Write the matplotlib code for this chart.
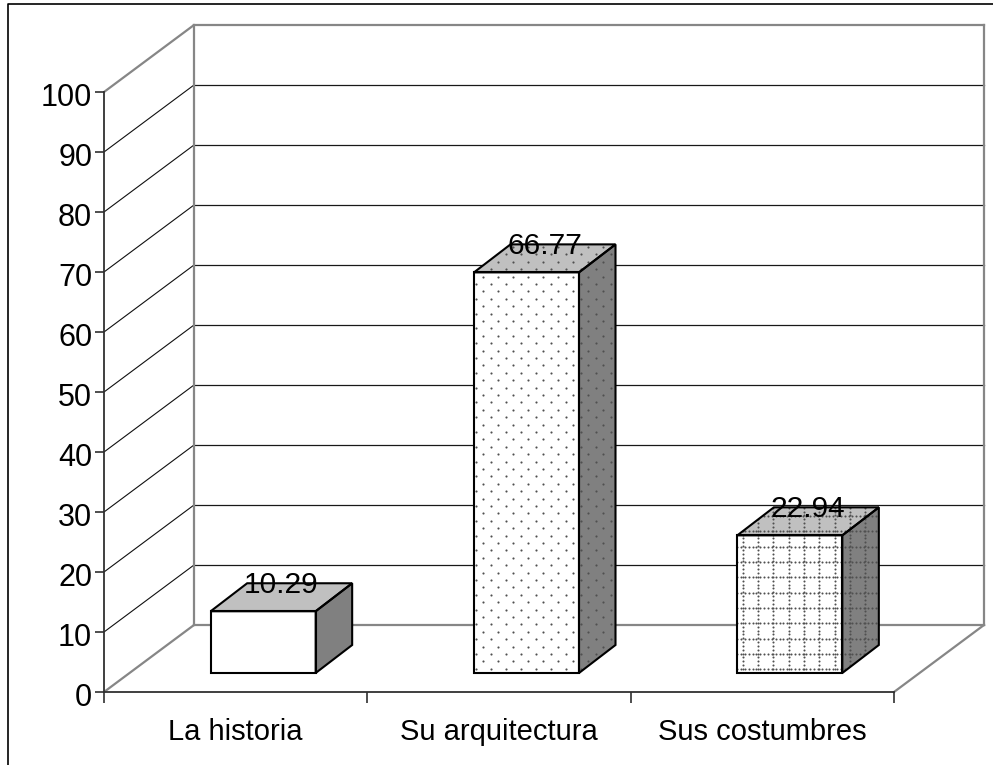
import numpy as np
import matplotlib
matplotlib.use("Agg")
import matplotlib.pyplot as plt
from matplotlib.patches import Polygon
from matplotlib.transforms import IdentityTransform, ScaledTranslation

plt.rcParams['font.family'] = ['Liberation Sans', 'DejaVu Sans']

categories = ["La historia", "Su arquitectura", "Sus costumbres"]
values = [10.29, 66.77, 22.94]
textures = [None, "dots", "grid"]
y_ticks = list(range(0, 101, 10))

W, H = 993, 765
fig = plt.figure(figsize=(W / 100, H / 100), dpi=100, facecolor="white")
# outer chart frame
fig.add_artist(plt.Line2D([8 / W, 8 / W, 1], [0, 1 - 4 / H, 1 - 4 / H], color="black", lw=1.2))

L, R, B, T = 104, 894, 692, 92
ax = fig.add_axes([L / W, 1 - B / H, (R - L) / W, (B - T) / H])
ax.set_xlim(0, 3)
ax.set_ylim(0, 100)
ax.patch.set_visible(False)
for s in ("top", "right"):
    ax.spines[s].set_visible(False)
for s in ("left", "bottom"):
    ax.spines[s].set_color("#303030")
    ax.spines[s].set_linewidth(1.3)

PXX = 3 / (R - L)       # category units per pixel
PXY = 100 / (B - T)     # value units per pixel
WDX, WDY = 90 * PXX, 67 * PXY     # wall depth
SDX, SDY = 27.5 * PXX, 19 * PXY   # bar offset from floor front
BDX, BDY = 36.5 * PXX, 28 * PXY   # bar depth
BW = 105 * PXX                    # bar width

GRAY = "#868686"
for v in y_ticks:
    edge = v in (y_ticks[0], y_ticks[-1])
    c = GRAY if edge else "#101010"
    lw = 1.6 if edge else 0.8
    ax.plot([0, WDX], [v, v + WDY], color=c, lw=lw, clip_on=False, zorder=1, solid_capstyle="round")
    ax.plot([WDX, 3 + WDX], [v + WDY, v + WDY], color=GRAY if edge else "#181818",
            lw=1.6 if edge else 0.9, clip_on=False, zorder=1)
ax.plot([WDX, WDX], [WDY, 100 + WDY], color=GRAY, lw=1.6, clip_on=False, zorder=1)
ax.plot([3 + WDX, 3 + WDX], [WDY, 100 + WDY], color=GRAY, lw=1.6, clip_on=False, zorder=1)
ax.plot([3, 3 + WDX], [0, WDY], color=GRAY, lw=1.6, clip_on=False, zorder=1)


def texture(patch, kind):
    """Screen-aligned pattern clipped to a face."""
    ident = IdentityTransform()
    if kind == "dots":
        rows = np.arange(0, H, 7.4)
        xs, ys = [], []
        for j, yy in enumerate(rows):
            xr = np.arange(3 + (7.5 if j % 2 else 0), W, 15)
            xs.extend(xr)
            ys.extend([yy] * len(xr))
        size = 2.4
    else:
        gx = np.arange(5.7, W, 15.35)
        gy = np.arange(3.6, H, 15.35)
        fine = np.arange(0, W, 3.84)
        fine_y = np.arange(0, H, 3.84)
        xs = list(np.repeat(fine, len(gy))) + list(np.repeat(gx, len(fine_y)))
        ys = list(np.tile(gy, len(fine))) + list(np.tile(fine_y, len(gx)))
        size = 2.2
    sc = ax.scatter(xs, ys, s=size, c="#505050", linewidths=0, transform=ident, zorder=3, clip_on=True)
    sc.set_clip_path(patch)


label_shift = ScaledTranslation(0, -2 / 100, fig.dpi_scale_trans)

for i, (val, tex) in enumerate(zip(values, textures)):
    x0 = i + 0.5 - BW / 2 + SDX
    x1 = x0 + BW
    y0 = SDY
    y1 = SDY + val
    faces = [
        ([(x0, y0), (x1, y0), (x1, y1), (x0, y1)], "white"),
        ([(x0, y1), (x1, y1), (x1 + BDX, y1 + BDY), (x0 + BDX, y1 + BDY)], "#C0C0C0"),
        ([(x1, y0), (x1 + BDX, y0 + BDY), (x1 + BDX, y1 + BDY), (x1, y1)], "#808080"),
    ]
    for pts, col in faces:
        fill = Polygon(pts, closed=True, facecolor=col, edgecolor="none", zorder=2, clip_on=False)
        ax.add_patch(fill)
        if tex:
            texture(fill, tex)
        ax.add_patch(Polygon(pts, closed=True, facecolor="none", edgecolor="black", lw=1.5,
                             joinstyle="miter", zorder=4, clip_on=False))
    ax.text((x0 + x1) / 2 + 18 * PXX, y1 + BDY, f"{val:.2f}", ha="center", va="center",
            fontsize=21.5, color="#000000", zorder=5, clip_on=False,
            transform=ax.transData + label_shift)

ax.set_yticks(y_ticks)
ax.set_yticklabels([str(v) for v in y_ticks], fontsize=22, color="#000000")
ax.tick_params(axis="y", length=6.5, width=1.2, color="#303030", pad=2)
for t in ax.get_yticklabels():
    t.set_transform(t.get_transform() + label_shift)
ax.set_xticks(range(4))
ax.set_xticklabels([""] * 4)
ax.tick_params(axis="x", which="major", length=8, width=1.2, color="#303030")
ax.set_xticks([i + 0.5 for i in range(3)], minor=True)
ax.set_xticklabels(categories, minor=True, fontsize=21, color="#000000")
ax.tick_params(axis="x", which="minor", length=0, pad=19)

fig.savefig("out.png", dpi=100)
